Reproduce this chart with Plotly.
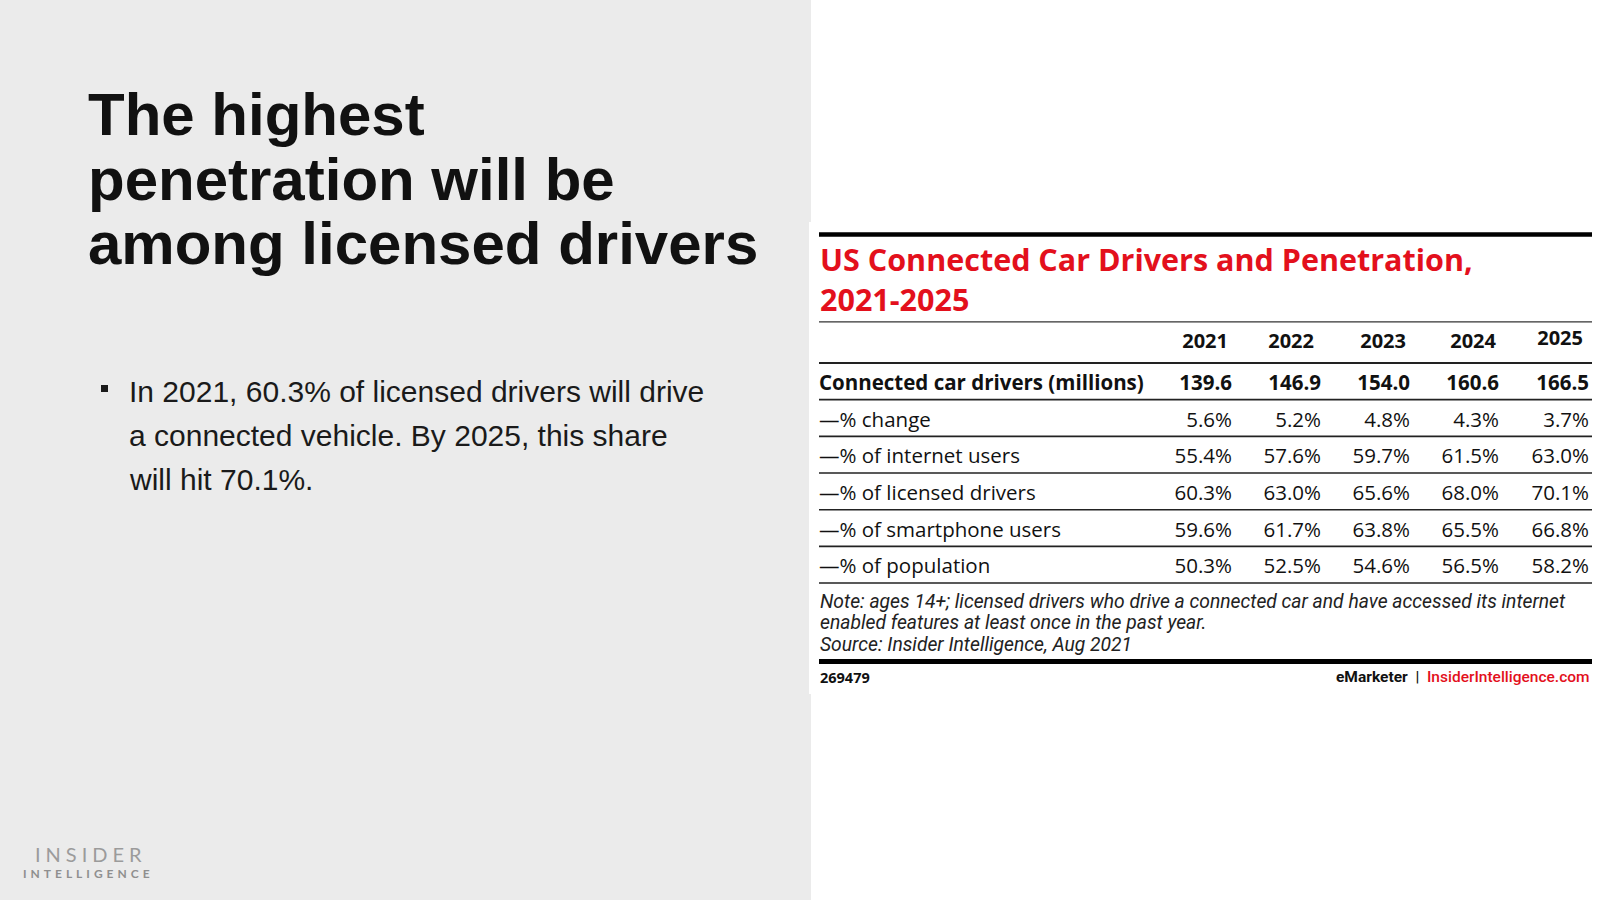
import plotly.graph_objects as go

W, H = 1600, 900

# slide text
HEADLINE = ["The highest", "penetration will be", "among licensed drivers"]
BULLET = [
    "In 2021, 60.3% of licensed drivers will drive",
    "a connected vehicle. By 2025, this share",
    "will hit 70.1%.",
]

# table data
TITLE = ["US Connected Car Drivers and Penetration,", "2021-2025"]
YEARS = ["2021", "2022", "2023", "2024", "2025"]
ROW_LABELS = [
    "Connected car drivers (millions)",
    "—% change",
    "—% of internet users",
    "—% of licensed drivers",
    "—% of smartphone users",
    "—% of population",
]
DRIVERS_M = [139.6, 146.9, 154.0, 160.6, 166.5]
PCT_CHANGE = [5.6, 5.2, 4.8, 4.3, 3.7]
PCT_INTERNET = [55.4, 57.6, 59.7, 61.5, 63.0]
PCT_LICENSED = [60.3, 63.0, 65.6, 68.0, 70.1]
PCT_SMARTPHONE = [59.6, 61.7, 63.8, 65.5, 66.8]
PCT_POPULATION = [50.3, 52.5, 54.6, 56.5, 58.2]
NOTE = [
    "Note: ages 14+; licensed drivers who drive a connected car and have accessed its internet",
    "enabled features at least once in the past year.",
    "Source: Insider Intelligence, Aug 2021",
]
CHART_ID = "269479"

RED = "#e3101c"
INK = "#111111"
TABLE_FONT = "Open Sans"

# table geometry (pixels; rows are in row units on the y axis)
TABLE_L, TABLE_R = 819, 1592
COL_RIGHT = [1232, 1321, 1410, 1499, 1589]
HEAD_SHIFT = [-4, -7, -4, -3, -6]
ROW_H = 36.67
RULE0_PX = 363  # rule under the header row

rows = [[f"{v:.1f}" for v in DRIVERS_M]]
for series in [PCT_CHANGE, PCT_INTERNET, PCT_LICENSED, PCT_SMARTPHONE, PCT_POPULATION]:
    rows.append([f"{v:.1f}%" for v in series])


def px(x):
    return x / W


def py(y):
    return 1 - y / H


fig = go.Figure()

# header years
fig.add_trace(go.Scatter(
    x=[c + d for c, d in zip(COL_RIGHT, HEAD_SHIFT)],
    y=[-0.05, -0.05, -0.05, -0.05, -0.13],
    text=YEARS, mode="text", textposition="middle left",
    textfont=dict(family=TABLE_FONT, size=20, color=INK, weight="bold"),
    hoverinfo="skip"))

for k, (label, vals) in enumerate(zip(ROW_LABELS, rows), start=1):
    weight = "bold" if k == 1 else "normal"
    fig.add_trace(go.Scatter(
        x=[TABLE_L], y=[k + 0.1], text=[label], mode="text",
        textposition="middle right",
        textfont=dict(family=TABLE_FONT, size=20.5, color=INK, weight=weight),
        hoverinfo="skip"))
    fig.add_trace(go.Scatter(
        x=COL_RIGHT, y=[k + 0.1] * len(vals), text=vals, mode="text",
        textposition="middle left",
        textfont=dict(family=TABLE_FONT, size=20.5, color=INK, weight=weight),
        hoverinfo="skip"))

shapes = [
    dict(type="rect", xref="paper", yref="paper", x0=0, x1=px(811), y0=0, y1=1,
         fillcolor="#ebebeb", line_width=0, layer="below"),
    dict(type="rect", xref="paper", yref="paper", x0=px(809), x1=1, y0=py(694), y1=py(222),
         fillcolor="white", line_width=0, layer="below"),
    dict(type="rect", xref="paper", yref="paper", x0=px(101), x1=px(108), y0=py(392), y1=py(385),
         fillcolor="#1a1a1a", line_width=0),
    dict(type="line", xref="paper", yref="paper", x0=px(TABLE_L), x1=px(TABLE_R),
         y0=py(234.5), y1=py(234.5), line=dict(color="black", width=4.5)),
    dict(type="line", xref="paper", yref="paper", x0=px(TABLE_L), x1=px(TABLE_R),
         y0=py(661.5), y1=py(661.5), line=dict(color="black", width=5)),
    dict(type="line", xref="x", yref="y", x0=TABLE_L, x1=TABLE_R, y0=-0.62, y1=-0.62,
         line=dict(color="#333333", width=1.3)),
]
for k in range(len(ROW_LABELS) + 1):
    shapes.append(dict(type="line", xref="x", yref="y", x0=TABLE_L, x1=TABLE_R,
                       y0=k + 0.5, y1=k + 0.5,
                       line=dict(color="#222222", width=2 if k == 0 else 1.6)))

ann = []
for i, line in enumerate(HEADLINE):
    ann.append(dict(x=px(86), y=py(115 + 64 * i), text=f"<b>{line}</b>",
                    xanchor="left", yanchor="middle",
                    font=dict(family="Liberation Sans", size=60, color="#111111")))
for i, line in enumerate(BULLET):
    ann.append(dict(x=px(127), y=py(392 + 43.5 * i), text=line,
                    xanchor="left", yanchor="middle",
                    font=dict(family="Liberation Sans", size=30, color="#1a1a1a")))
ann.append(dict(x=px(TABLE_L - 1), y=py(279), text="<b>" + "<br>".join(TITLE) + "</b>",
                xanchor="left", yanchor="middle", align="left",
                font=dict(family=TABLE_FONT, size=30.5, color=RED)))
for i, line in enumerate(NOTE):
    ann.append(dict(x=px(TABLE_L - 1), y=py(601 + 21.5 * i), text=f"<i>{line}</i>",
                    xanchor="left", yanchor="middle",
                    font=dict(family="Roboto", size=19.3, color="#222222")))
ann.append(dict(x=px(TABLE_L - 1), y=py(677), text=f"<b>{CHART_ID}</b>",
                xanchor="left", yanchor="middle",
                font=dict(family=TABLE_FONT, size=14.5, color=INK)))
ann.append(dict(x=px(TABLE_R), y=py(677),
                text=f"<b>eMarketer</b>  |  <span style='color:{RED}'>InsiderIntelligence.com</span>",
                xanchor="right", yanchor="middle",
                font=dict(family="Roboto", size=15.5, color=INK, weight=500)))
ann.append(dict(x=px(33), y=py(854), text="\u2005".join("INSIDER"),
                xanchor="left", yanchor="middle",
                font=dict(family="Lato", size=20, color="#9b9b9b")))
ann.append(dict(x=px(21), y=py(873), text="<b>" + "\u2004".join("INTELLIGENCE") + "</b>",
                xanchor="left", yanchor="middle",
                font=dict(family="Lato", size=12, color="#8f8f8f")))
for a in ann:
    a.update(xref="paper", yref="paper", showarrow=False)

y_top = 0.5 - RULE0_PX / ROW_H
y_bottom = 0.5 + (H - RULE0_PX) / ROW_H

fig.update_layout(
    width=W, height=H,
    margin=dict(l=0, r=0, t=0, b=0),
    paper_bgcolor="white", plot_bgcolor="white",
    showlegend=False,
    xaxis=dict(visible=False, range=[0, W], domain=[0, 1], fixedrange=True),
    yaxis=dict(visible=False, range=[y_bottom, y_top], domain=[0, 1], fixedrange=True),
    shapes=shapes,
    annotations=ann,
)

fig.write_html("out.html", config={"displayModeBar": False},
               post_script="document.body.style.margin='0';")
